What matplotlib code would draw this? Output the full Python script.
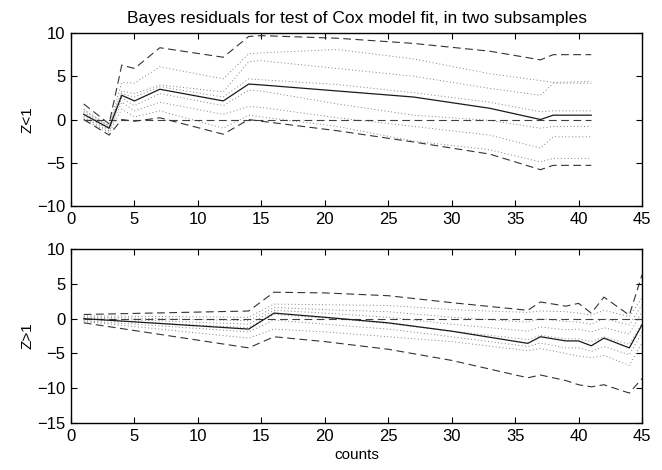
import matplotlib
matplotlib.use("Agg")
import matplotlib.pyplot as plt

plt.rcParams['font.family'] = ['Liberation Sans', 'DejaVu Sans']

# top panel (Z<1)
x_top = [1, 3, 4, 5, 7, 12, 14, 15, 21, 27, 33, 37, 38, 41]
top_mean = [0.6, -1.0, 2.8, 2.15, 3.5, 2.15, 4.1, 4.0, 3.3, 2.6, 1.3, 0.0, 0.5, 0.5]
top_hi = [1.8, -0.5, 6.3, 5.9, 8.3, 7.2, 9.6, 9.7, 9.4, 8.8, 7.9, 6.9, 7.5, 7.5]
top_lo = [0.0, -1.8, 0.0, -0.2, 0.2, -1.7, 0.0, -0.2, -1.3, -2.6, -4.0, -5.8, -5.3, -5.3]
top_q = [
    [1.2, -0.8, 4.3, 4.2, 6.1, 4.7, 7.6, 7.7, 8.1, 7.0, 5.3, 4.5, 4.3, 4.4],
    [1.0, -0.7, 3.3, 3.0, 4.0, 3.2, 6.7, 6.8, 5.9, 5.0, 3.6, 2.8, 4.2, 4.2],
    [0.8, -0.9, 3.0, 2.6, 3.8, 2.6, 4.7, 4.6, 4.05, 3.1, 2.0, 0.9, 1.0, 1.0],
    [0.4, -1.1, 2.5, 1.6, 3.0, 1.6, 3.4, 3.3, 1.8, 0.5, -0.1, -1.0, -0.8, -0.8],
    [0.2, -1.3, 2.0, 1.0, 2.0, 0.6, 1.5, 1.4, 0.2, -0.8, -1.8, -3.3, -2.0, -2.0],
    [0.0, -1.5, 1.2, 0.3, 1.0, -1.0, 0.5, 0.3, -0.8, -2.5, -3.5, -4.9, -4.5, -4.5],
]

# bottom panel (Z>1)
x_bot = [1, 14, 16, 20, 25, 30, 36, 37, 39, 40, 41, 42, 44, 45]
bot_mean = [0.0, -1.5, 0.8, 0.2, -0.6, -1.8, -3.55, -2.6, -3.2, -3.2, -3.9, -2.8, -4.2, -0.9]
bot_hi = [0.6, 1.1, 3.8, 3.7, 3.3, 2.3, 1.2, 2.4, 1.8, 2.2, 0.8, 3.1, 0.5, 6.3]
bot_lo = [-0.6, -4.2, -2.6, -3.3, -4.4, -6.0, -8.5, -8.1, -8.9, -9.5, -9.8, -9.5, -10.7, -8.6]
bot_q = [
    [0.4, 0.2, 2.1, 2.0, 1.9, 1.3, 0.9, 1.1, 1.0, 0.8, 0.5, 1.2, 0.3, 3.0],
    [0.25, -0.3, 1.6, 1.3, 1.0, 0.2, -0.5, 0.0, -0.4, -0.5, -0.8, 0.0, -0.9, 2.0],
    [0.1, -0.8, 1.2, 0.8, 0.2, -0.8, -1.8, -1.2, -1.6, -1.5, -1.9, -1.3, -2.2, 1.0],
    [-0.1, -1.3, 0.6, 0.1, -0.7, -1.8, -3.0, -2.4, -2.9, -2.9, -3.3, -2.6, -3.7, -0.6],
    [-0.3, -1.9, -0.2, -0.8, -1.5, -2.6, -4.0, -3.5, -4.2, -4.2, -4.7, -4.0, -5.2, -2.0],
    [-0.4, -2.8, -1.5, -1.9, -2.6, -3.3, -4.6, -4.3, -5.0, -5.4, -5.6, -5.3, -6.7, -3.5],
]


def draw(ax, x, mean, hi, lo, qs):
    for q in qs:
        ax.plot(x, q, color='0.5', lw=0.7, ls=(0, (1, 2.5)))
    ax.plot([x[0], x[-1]], [0, 0], color='0.25', lw=0.8, ls=(0, (7, 4)))
    ax.plot(x, hi, color='0.2', lw=0.8, ls=(0, (7, 4)))
    ax.plot(x, lo, color='0.2', lw=0.8, ls=(0, (7, 4)))
    ax.plot(x, mean, color='0.1', lw=0.9)
    ax.set_xlim(0, 45)
    ax.set_xticks(range(0, 46, 5))
    ax.tick_params(direction='in', top=True, right=True, labelsize=12, length=4, pad=4)
    for s in ax.spines.values():
        s.set_linewidth(1.0)


fig = plt.figure(figsize=(6.62, 4.70), dpi=100)
ax1 = fig.add_axes([0.1073, 0.5617, 0.8625, 0.368])
ax2 = fig.add_axes([0.1073, 0.1, 0.8625, 0.370])

draw(ax1, x_top, top_mean, top_hi, top_lo, top_q)
ax1.set_ylim(-10, 10)
ax1.set_yticks([-10, -5, 0, 5, 10])
ax1.set_ylabel("Z<1", fontsize=11, labelpad=2)
ax1.set_title("Bayes residuals for test of Cox model fit, in two subsamples", fontsize=12.5, pad=7)

draw(ax2, x_bot, bot_mean, bot_hi, bot_lo, bot_q)
ax2.set_ylim(-15, 10)
ax2.set_yticks([-15, -10, -5, 0, 5, 10])
ax2.set_ylabel("Z>1", fontsize=11, labelpad=2)
ax2.set_xlabel("counts", fontsize=11, labelpad=3)

fig.savefig("out.png", dpi=100)
